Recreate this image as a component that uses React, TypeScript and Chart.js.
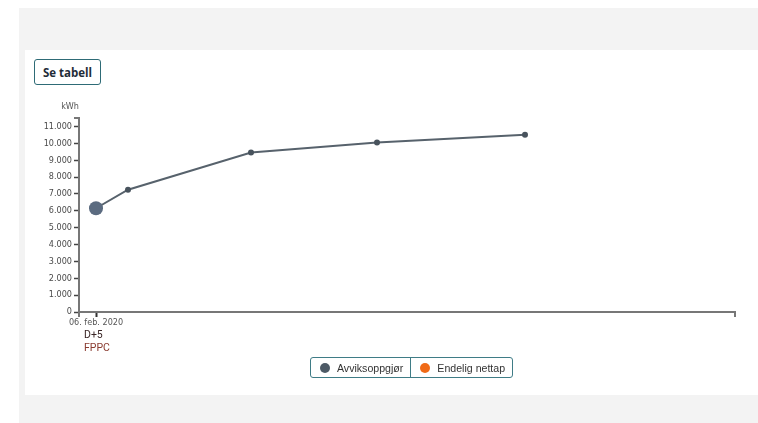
import React, { useEffect, useRef } from "react";
import { Chart, registerables } from "chart.js";

Chart.register(...registerables);

// ---- data ----
const seriesName = "Avviksoppgjør";
const series2Name = "Endelig nettap";
const pointDates = ["2020-02-06", "2020-03-09", "2020-07-10", "2020-11-13", "2021-04-10"];
const pointValues = [6150, 7250, 9450, 10050, 10500];
const axisStartDate = "2020-01-20";
const axisEndDate = "2021-11-06";
const tickDates = ["2020-02-06"];
const tickSubLabels = [["D+5", "FPPC"]];
const yMax = 11500;
const yTickValues = [0, 1000, 2000, 3000, 4000, 5000, 6000, 7000, 8000, 9000, 10000, 11000];
const yUnit = "kWh";
const monthNames = ["jan.", "feb.", "mar.", "apr.", "mai", "jun.", "jul.", "aug.", "sep.", "okt.", "nov.", "des."];

const DAY = 86400000;
const toMs = (s: string) => {
  const [y, m, d] = s.split("-").map(Number);
  return Date.UTC(y, m - 1, d);
};
const base = toMs(axisStartDate);
const toDay = (s: string) => Math.round((toMs(s) - base) / DAY);
const fmtDate = (day: number) => {
  const dt = new Date(base + day * DAY);
  const dd = String(dt.getUTCDate()).padStart(2, "0");
  return `${dd}. ${monthNames[dt.getUTCMonth()]} ${dt.getUTCFullYear()}`;
};
const fmtNum = (v: number) => String(v).replace(/\B(?=(\d{3})+(?!\d))/g, ".");

const condensed = "'DejaVu Sans Condensed', 'Liberation Sans Narrow', 'DejaVu Sans', sans-serif";

const axisDecor = {
  id: "axisDecor",
  afterDraw(chart: any) {
    const { ctx, chartArea } = chart;
    const { left, right, top, bottom } = chartArea;
    ctx.save();
    ctx.strokeStyle = "#777";
    ctx.lineWidth = 2;
    ctx.beginPath();
    ctx.moveTo(left - 5, top);
    ctx.lineTo(left, top);
    ctx.moveTo(right, bottom);
    ctx.lineTo(right, bottom + 5);
    ctx.moveTo(left, bottom);
    ctx.lineTo(left, bottom + 5);
    ctx.stroke();

    ctx.fillStyle = "#555";
    ctx.font = `9px ${condensed}`;
    ctx.textAlign = "right";
    ctx.textBaseline = "middle";
    ctx.fillText(yUnit, left, top - 11);

    const xs = chart.scales.x;
    ctx.textAlign = "left";
    ctx.font = "10.5px Roboto, sans-serif";
    tickDates.forEach((d, i) => {
      const px = xs.getPixelForValue(toDay(d));
      const subs = tickSubLabels[i] || [];
      subs.forEach((s, j) => {
        ctx.fillStyle = j === 0 ? "#3a2626" : "#8a3b30";
        ctx.fillText(s, px - 12, bottom + 23 + j * 13);
      });
    });
    ctx.restore();
  },
};

function ChartView() {
  const ref = useRef<HTMLCanvasElement | null>(null);
  useEffect(() => {
    if (!ref.current) return;
    const data = pointDates.map((d, i) => ({ x: toDay(d), y: pointValues[i] }));
    const chart = new Chart(ref.current, {
      type: "line",
      data: {
        datasets: [
          {
            label: seriesName,
            data,
            borderColor: "#57626c",
            borderWidth: 2,
            pointRadius: data.map((_, i) => (i === 0 ? 7 : 3)),
            pointBackgroundColor: data.map((_, i) => (i === 0 ? "#5b6b80" : "#48535d")),
            pointBorderWidth: 0,
            tension: 0,
            clip: false as any,
          },
          {
            label: series2Name,
            data: [],
            borderColor: "#f06a17",
            backgroundColor: "#f06a17",
          },
        ],
      },
      options: {
        animation: false,
        responsive: false,
        layout: { padding: { top: 23, right: 23, left: 0, bottom: 0 } },
        plugins: { legend: { display: false }, tooltip: { enabled: false } },
        scales: {
          x: {
            type: "linear",
            min: 0,
            max: toDay(axisEndDate),
            afterFit: (s: any) => {
              s.height = 48;
            },
            afterBuildTicks: (s: any) => {
              s.ticks = tickDates.map((d) => ({ value: toDay(d) }));
            },
            grid: {
              drawOnChartArea: false,
              drawTicks: true,
              tickLength: 5,
              tickWidth: 2,
              tickColor: "#333",
            },
            border: { display: true, color: "#777", width: 2 },
            ticks: {
              autoSkip: false,
              maxRotation: 0,
              padding: 0,
              color: "#555",
              font: { family: condensed, size: 9 },
              callback: (v: any) => fmtDate(Number(v)),
            },
          },
          y: {
            type: "linear",
            min: 0,
            max: yMax,
            afterFit: (s: any) => {
              s.width = 54;
            },
            afterBuildTicks: (s: any) => {
              s.ticks = yTickValues.map((v) => ({ value: v }));
            },
            grid: {
              drawOnChartArea: false,
              drawTicks: true,
              tickLength: 5,
              tickWidth: 1.5,
              tickColor: "#444",
            },
            border: { display: true, color: "#777", width: 2 },
            ticks: {
              autoSkip: false,
              padding: 2,
              color: "#4a4a4a",
              font: { family: condensed, size: 9 },
              callback: (v: any) => fmtNum(Number(v)),
            },
          },
        },
      },
      plugins: [axisDecor],
    });
    return () => chart.destroy();
  }, []);
  return <canvas ref={ref} width={733} height={265} style={{ display: "block" }} />;
}

export default function App() {
  const legendItem = (label: string, color: string, divider: boolean) => (
    <div
      style={{
        display: "flex",
        alignItems: "center",
        height: "100%",
        paddingLeft: 9,
        paddingRight: 7,
        borderRight: divider ? "1px solid #3f7c86" : "none",
        boxSizing: "border-box",
      }}
    >
      <span
        style={{
          width: 10,
          height: 10,
          borderRadius: "50%",
          background: color,
          display: "inline-block",
          marginRight: 7,
        }}
      />
      <span>{label}</span>
    </div>
  );
  return (
    <div
      style={{
        position: "absolute",
        left: 19,
        top: 8,
        right: 0,
        bottom: 0,
        background: "#f3f3f3",
        overflow: "hidden",
      }}
    >
      <div
        style={{
          position: "absolute",
          left: 6,
          top: 42,
          right: 0,
          height: 345,
          background: "#ffffff",
        }}
      >
        <div
          style={{
            position: "absolute",
            left: 9,
            top: 9,
            width: 67,
            height: 26,
            boxSizing: "border-box",
            border: "1px solid #2e6b76",
            borderRadius: 3,
            display: "flex",
            alignItems: "center",
            justifyContent: "center",
            fontFamily: "'Open Sans', sans-serif",
            fontWeight: 700,
            fontSize: 11.5,
            color: "#1e2c38",
          }}
        >
          Se tabell
        </div>
        <div style={{ position: "absolute", left: 0, top: 45 }}>
          <ChartView />
        </div>
        <div
          style={{
            position: "absolute",
            left: 285,
            top: 307,
            height: 21,
            boxSizing: "border-box",
            border: "1px solid #3f7c86",
            borderRadius: 3,
            display: "flex",
            alignItems: "center",
            fontFamily: "'Liberation Sans', Arial, sans-serif",
            fontSize: 10.6,
            color: "#333",
          }}
        >
          {legendItem(seriesName, "#4d5a66", true)}
          {legendItem(series2Name, "#f06a17", false)}
        </div>
      </div>
    </div>
  );
}
